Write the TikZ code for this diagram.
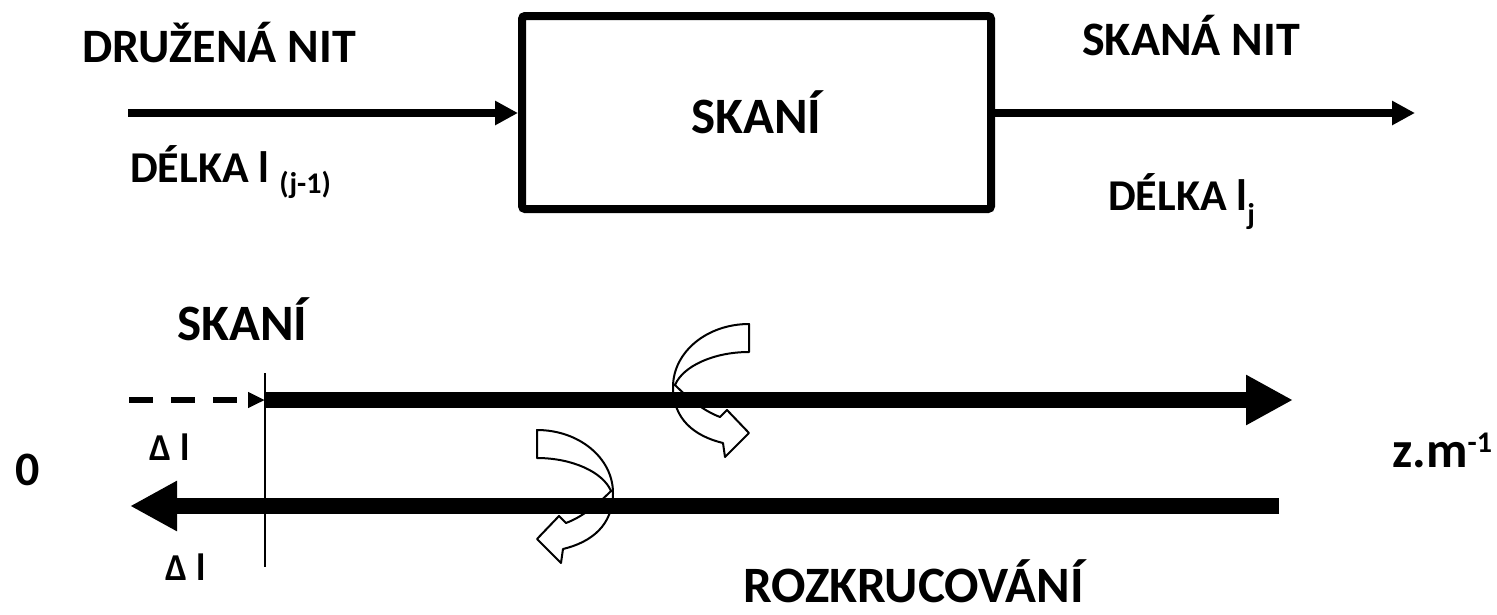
\documentclass[tikz,border=0pt]{standalone}
\usepackage{fontspec}
\setmainfont{Carlito}
\usetikzlibrary{arrows.meta}
\tikzset{
  big/.style={font=\fontsize{48}{56}\selectfont\bfseries, inner sep=0pt, anchor=base west},
  large/.style={font=\fontsize{51}{58}\selectfont\bfseries, inner sep=0pt, anchor=base west},
  mid/.style={font=\fontsize{44}{50}\selectfont\bfseries, inner sep=0pt, anchor=base west},
  small/.style={font=\fontsize{38}{42}\selectfont\bfseries, inner sep=0pt, anchor=base west},
  thin/.style={line width=8pt, -{Triangle[length=23pt,width=23pt]}},
  thick/.style={line width=16pt, -{Triangle[length=47pt,width=47pt]}},
  twist/.style={fill=white, draw=black, line width=2pt, line join=round},
}
\begin{document}
\begin{tikzpicture}[x=1pt,y=-1pt]
\useasboundingbox (0,0) rectangle (1497,614);
% top block
\node[draw, line width=8pt, rounded corners=3pt, minimum width=469pt, minimum height=193pt,
      font=\fontsize{51}{58}\selectfont\bfseries, inner sep=0pt] (box) at (756.5,112.5) {SKANÍ};
\coordinate (inA) at (128,113);
\coordinate (outB) at (1415,113);
\draw[thin] (inA) -- (box.west |- inA);
\draw[thin] (box.east |- outB) -- (outB);
\node[big] (druz) at (82,62) {DRUŽENÁ NIT};
\node[big] (skana) at (1082,55) {SKANÁ NIT};
\node[mid] (dl1) at (130,182) {DÉLKA l \raisebox{-11pt}{\fontsize{30}{34}\selectfont(j-1)}};
\node[mid] (dl2) at (1108,210) {DÉLKA l\raisebox{-14pt}{\fontsize{30}{34}\selectfont j}};
% bottom part
\node[large] (skani2) at (177,340) {SKANÍ};
\node[large] (rozk) at (743,602) {ROZKRUCOVÁNÍ};
\node[big, anchor=center] (zero) at (28,470) {0};
\node[large] (zm) at (1392,467) {z.m\raisebox{15pt}{\fontsize{30}{34}\selectfont -1}};
\node[small] (dl3) at (149,460) {Δ\hspace{9pt}l};
\node[small] (dl4) at (165,580) {Δ\hspace{9pt}l};
% twisting arrows
\begin{scope}[shift={(749,324)}]
\draw[twist] (0,0) -- (0,28) .. controls (-35,28) and (-66,42) .. (-74,61)
  .. controls (-60,75) and (-45,87) .. (-29,93) -- (-22,86) -- (0,109) -- (-24,133) -- (-26,119)
  .. controls (-55,112) and (-76,95) .. (-76,63) .. controls (-76,28) and (-42,0) .. (0,0) -- cycle;
\end{scope}
\begin{scope}[shift={(537,430)}, xscale=-1]
\draw[twist] (0,0) -- (0,28) .. controls (-35,28) and (-66,42) .. (-74,61)
  .. controls (-60,75) and (-45,87) .. (-29,93) -- (-22,86) -- (0,109) -- (-24,133) -- (-26,119)
  .. controls (-55,112) and (-76,95) .. (-76,63) .. controls (-76,28) and (-42,0) .. (0,0) -- cycle;
\end{scope}
% axes
\coordinate (vtop) at (265,373);
\coordinate (vbot) at (265,567);
\draw[line width=2.5pt] (vtop) -- (vbot);
\coordinate (dashS) at (129,400);
\coordinate (fwdS) at (265,400);
\coordinate (fwdE) at (1293,400);
\coordinate (bwdS) at (1279,506);
\coordinate (bwdE) at (130,506);
\draw[line width=6pt, dash pattern=on 24pt off 18pt, -{Triangle[length=17pt,width=15pt]}] (dashS) -- (fwdS);
\draw[thick] (fwdS) -- (fwdE);
\draw[thick] (bwdS) -- (bwdE);
\end{tikzpicture}
\end{document}
